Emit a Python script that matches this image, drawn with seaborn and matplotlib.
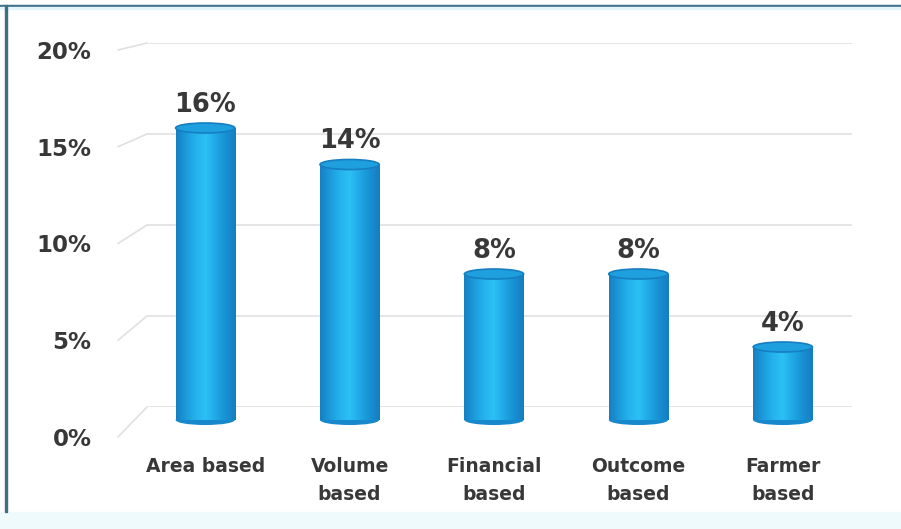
import numpy as np
import pandas as pd
import seaborn as sns
import matplotlib.pyplot as plt
from matplotlib.patches import Ellipse, Rectangle, ConnectionPatch
from matplotlib.colors import LinearSegmentedColormap

# data
categories = ["Area based", "Volume\nbased", "Financial\nbased", "Outcome\nbased", "Farmer\nbased"]
shares = [16, 14, 8, 8, 4]
ticks = [0, 5, 10, 15, 20]
tick_labels = ["0%", "5%", "10%", "15%", "20%"]

df = pd.DataFrame({"category": categories, "share": shares})

W, H = 901, 529
TXT = "#383838"
sns.set_theme(style="white")
plt.rcParams["font.family"] = ["DejaVu Sans"]

fig = plt.figure(figsize=(W / 100, H / 100), dpi=100)
fig.patch.set_facecolor("white")


def px_axes(x0, x1, y_top, y_bot):
    # axes placed by pixel box (y measured from the top)
    return fig.add_axes([x0 / W, (H - y_bot) / H, (x1 - x0) / W, (y_bot - y_top) / H])


def fig_rect(x, y_top, w, h, color):
    fig.patches.append(Rectangle((x / W, (H - y_top - h) / H), w / W, h / H,
                                 transform=fig.transFigure, color=color, zorder=0))


# frame of the picture
fig_rect(0, 512, W, H - 512, "#effafd")
fig_rect(0, 5, W, 2, "#3f6f86")
fig_rect(0, 7, W, 2, "#e2f6fb")
fig_rect(5, 5, 2, 507, "#3f6f86")

# back plane: gridlines
axg = px_axes(147, 852, 43, 407)
axg.set_ylim(0, 20)
axg.set_xlim(0, 1)
axg.set_yticks(ticks)
axg.yaxis.grid(True, color="#e0e0e0", lw=1.2)
axg.set_xticks([])
axg.tick_params(left=False, labelleft=False)
sns.despine(ax=axg, left=True, bottom=True)
axg.patch.set_alpha(0)

# front plane: percentage labels
axl = px_axes(118, 852, 50, 437)
axl.set_ylim(0, 20)
axl.set_yticks(ticks)
axl.set_yticklabels(tick_labels, fontsize=16.5, fontweight="bold", color=TXT)
axl.tick_params(left=False, pad=13)
axl.set_xticks([])
sns.despine(ax=axl, left=True, bottom=True)
axl.patch.set_alpha(0)

# perspective stubs from label plane to the grid plane
for t in ticks:
    con = ConnectionPatch(xyA=(0, t), coordsA=axl.transData, xyB=(0, t), coordsB=axg.transData,
                          color="#e0e0e0", lw=1.2)
    fig.add_artist(con)

# bars
ax = px_axes(133, 855, 55, 420)
ax.patch.set_alpha(0)
sns.barplot(data=df, x="category", y="share", color="#1ba6e4", width=0.41, ax=ax, zorder=3)
ax.set_xlabel("")
ax.set_ylabel("")
ax.set_yticks([])
ax.tick_params(axis="x", bottom=False, pad=21)
ax.set_xticks(range(len(categories)))
ax.set_xticklabels(categories, fontsize=13.5, fontweight="bold", color=TXT, linespacing=1.6, va="top")
sns.despine(ax=ax, left=True, bottom=True)

cyl = LinearSegmentedColormap.from_list(
    "cyl", ["#167fc2", "#1c9ada", "#24b3ed", "#2cc0f4", "#1fa8e6", "#1890d2", "#157dc0"])
grad = np.linspace(0, 1, 256).reshape(1, -1)
ell_h = 0.55
for bar, v in zip(ax.patches, shares):
    x0, w, h = bar.get_x(), bar.get_width(), bar.get_height()
    cx = x0 + w / 2
    bar.set_facecolor("none")
    bar.set_edgecolor("none")
    img = ax.imshow(grad, cmap=cyl, extent=[x0, x0 + w, 0, h], aspect="auto", zorder=3)
    img.set_clip_path(bar)
    ax.add_patch(Ellipse((cx, 0), w, ell_h, facecolor="#1888cc", edgecolor="none",
                         zorder=2.9, clip_on=False))
    ax.add_patch(Ellipse((cx, h), w, ell_h, facecolor="#1ea0df", edgecolor="#167ec1", lw=1.2, zorder=4))
    ax.text(cx, h + 0.55, f"{v}%", ha="center", va="bottom", fontsize=18.5, fontweight="bold",
            color=TXT, zorder=5)
ax.set_xlim(-0.5, 4.5)
ax.set_ylim(0, 20)

fig.savefig("out.png", dpi=100)
